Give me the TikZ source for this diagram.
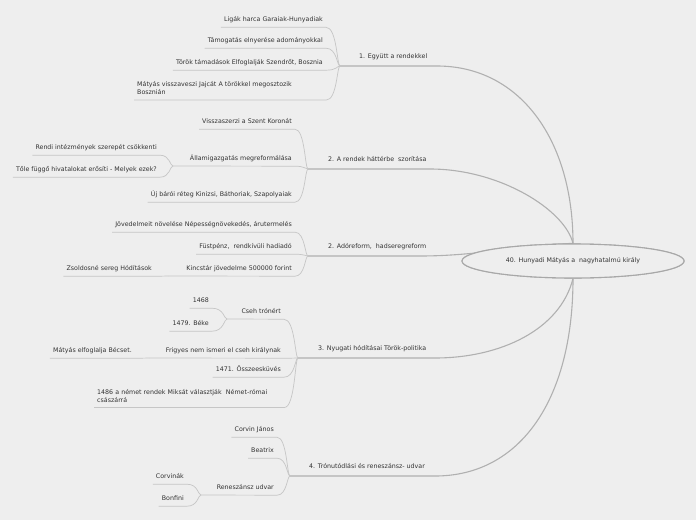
\documentclass[tikz,border=0pt]{standalone}
\usepackage{fontspec}
\setmainfont{DejaVu Sans}
\usetikzlibrary{calc,shapes.geometric}
\definecolor{bgc}{HTML}{EEEEEE}
\definecolor{txtc}{HTML}{333333}
\definecolor{subl}{HTML}{C6C6C6}
\definecolor{mainl}{HTML}{B0B0B0}
\definecolor{ellc}{HTML}{A8A8A8}
\newcommand\kid[3][4]{%
  \coordinate (kE) at ($(#3.south east)+(3,#1)$);
  \coordinate (kW) at ($(#3.south west)+(-3,#1)$);
  \draw[sub] (#2) .. controls ($(#2)+(-3,0)$) and ($(#2 |- kE)+(-3,0)$) .. (kE) -- (kW);}
\newcommand\kidp[2]{%
  \coordinate (kE) at ($(#2.south east)+(3,4)$);
  \draw[sub] (#1) .. controls ($(#1)+(-3,0)$) and ($(#1 |- kE)+(-3,0)$) .. (kE) -- (#2J);}
\begin{document}
\begin{tikzpicture}[x=1pt,y=-1pt,
  txt/.style={inner sep=0pt, font=\fontsize{6.3}{8}\selectfont, text=txtc, text height=4.6pt, text depth=1.4pt},
  kidt/.style={txt, anchor=east},
  ml/.style={inner sep=0pt, font=\fontsize{6.3}{8}\selectfont, text=txtc, align=left, text depth=0pt, anchor=south west},
  sub/.style={draw=subl, line width=0.7pt},
  mainb/.style={draw=mainl, line width=1.1pt},
  ctr/.style={ellipse, draw=ellc, line width=1.1pt, fill=bgc, minimum width=222pt, minimum height=34pt, inner sep=0pt, font=\fontsize{6.3}{8}\selectfont, text=txtc}]
\fill[bgc] (0,0) rectangle (696,520);
\useasboundingbox (0,0) rectangle (696,520);

% junctions
\coordinate (J1) at (340,66);
\coordinate (J2) at (308,169);
\coordinate (J3) at (308,256);
\coordinate (J4) at (298,358);
\coordinate (J5) at (290,476);
\coordinate (n22J) at (173,166);
\coordinate (n33J) at (168,276);
\coordinate (n41J) at (227,319);
\coordinate (n42J) at (149,358);
\coordinate (n53J) at (201,495);

% center node (placed first for anchors, redrawn on top later)
\path (573,261) node[ctr] (c) {\phantom{x}};

% main branches
\node[txt,anchor=west] (b1) at ($(J1)+(19,-9.5)$) {1. Együtt a rendekkel};
\node[txt,anchor=west] (b2) at ($(J2)+(20,-9.5)$) {2. A rendek háttérbe~ szorítása};
\node[txt,anchor=west] (b3) at ($(J3)+(20,-9.5)$) {2. Adóreform,~ hadseregreform};
\node[txt,anchor=west] (b4) at ($(J4)+(20,-9.5)$) {3. Nyugati hódításai Török-politika};
\node[txt,anchor=west] (b5) at ($(J5)+(19,-9.5)$) {4. Trónutódlási és reneszánsz- udvar};
\draw[mainb] (J1) -- (437,66) .. controls (520,66) and (573,140) .. (c.north);
\draw[mainb] (J2) -- (430,169) .. controls (500,169) and (565,210) .. (c.north);
\draw[mainb] (J3) -- (420,256) .. controls (480,256) and (530,244) .. (c.north);
\draw[mainb] (J4) -- (435,358) .. controls (500,358) and (560,330) .. (c.south);
\draw[mainb] (J5) -- (435,476) .. controls (520,476) and (573,400) .. (c.south);

% branch 1
\node[kidt] (n11) at (323,20) {Ligák harca Garaiak-Hunyadiak};
\node[kidt] (n12) at (323,41) {Támogatás elnyerése adományokkal};
\node[kidt] (n13) at (323,63) {Török támadások Elfoglalják Szendrőt, Bosznia};
\node[ml,text width=186pt] (n14) at (137,87) {Mátyás visszaveszi Jajcát A törökkel megosztozik\\Bosznián};
\kid{J1}{n11}\kid{J1}{n12}\kid{J1}{n13}\kid[13]{J1}{n14}

% branch 2
\node[kidt] (n21) at (292,122) {Visszaszerzi a Szent Koronát};
\node[kidt] (n22) at (292,159) {Államigazgatás megreformálása};
\node[kidt] (n23) at (292,195) {Új bárói réteg Kinizsi, Báthoriak, Szapolyaiak};
\node[kidt] (n221) at (157,148) {Rendi intézmények szerepét csökkenti};
\node[kidt] (n222) at (157,170) {Tőle függő hivatalokat erősíti - Melyek ezek?};
\kid{J2}{n21}\kidp{J2}{n22}\kid{J2}{n23}
\kid{n22J}{n221}\kid{n22J}{n222}

% branch 2b
\node[kidt] (n31) at (292,225) {Jövedelmeit növelése Népességnövekedés, árutermelés};
\node[kidt] (n32) at (292,247) {Füstpénz,~ rendkívüli hadiadó};
\node[kidt] (n33) at (292,269) {Kincstár jövedelme 500000 forint};
\node[kidt] (n331) at (152,269) {Zsoldosné sereg Hódítások};
\kid{J3}{n31}\kid{J3}{n32}\kidp{J3}{n33}
\kid{n33J}{n331}

% branch 3
\node[kidt] (n41) at (281,312) {Cseh trónért};
\node[kidt] (n411) at (209,301) {1468};
\node[kidt] (n412) at (209,324) {1479. Béke};
\node[kidt] (n42) at (281,351) {Frigyes nem ismeri el cseh királynak};
\node[kidt] (n421) at (132,351) {Mátyás elfoglalja Bécset.};
\node[kidt] (n43) at (281,370) {1471. Összeesküvés};
\node[ml,text width=184pt] (n44) at (97,394.5) {1486 a német rendek Miksát választják~ Német-római\\császárrá};
\kidp{J4}{n41}\kidp{J4}{n42}\kid{J4}{n43}\kid[13]{J4}{n44}
\kid{n41J}{n411}\kid{n41J}{n412}
\kid{n42J}{n421}

% branch 4
\node[kidt] (n51) at (274,430) {Corvin János};
\node[kidt] (n52) at (274,451) {Beatrix};
\node[kidt] (n53) at (274,488) {Reneszánsz udvar};
\node[kidt] (n531) at (184,477) {Corvinák};
\node[kidt] (n532) at (184,499) {Bonfini};
\kid{J5}{n51}\kid{J5}{n52}\kidp{J5}{n53}
\kid{n53J}{n531}\kid{n53J}{n532}

% center node on top
\node[ctr] at (c.center) {40. Hunyadi Mátyás a~ nagyhatalmú király};
\end{tikzpicture}
\end{document}
